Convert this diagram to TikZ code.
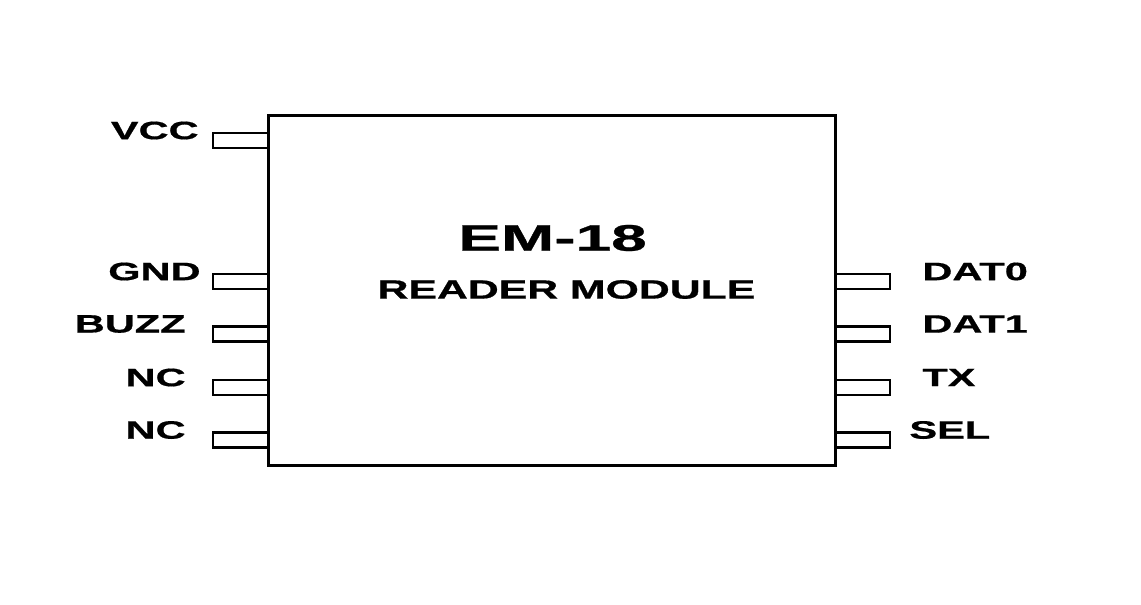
\documentclass[tikz,border=0pt]{standalone}
\usepackage{fontspec}
\setmainfont{Liberation Sans}[BoldFeatures={FakeBold=0.6}]
\newcommand{\widetext}[2][1.65]{\scalebox{#1}[1]{#2}}
\begin{document}
\begin{tikzpicture}
        [%%%%%%%%%%%%%%%%%%%%%%%%%%%%%%
        x=0.5pt, y=-0.5pt,
        module/.style={rectangle,draw=black,line width=1.5pt,minimum width=283.5pt,minimum height=175pt,inner sep=0pt},
        pinbox/.style={rectangle,draw=black,line width=1.4pt,minimum width=27.5pt,minimum height=7.5pt,inner sep=0pt},
        pinlabel/.style={font=\fontsize{12.6}{14}\selectfont\bfseries,inner sep=0pt},
        ]%%%%%%%%%%%%%%%%%%%%%%%%%%%%%%
        \useasboundingbox (0,0) rectangle (1141,605);

        \node[module] (em) at (551.5,290){};
        \node[font=\fontsize{18.5}{20}\selectfont\bfseries,inner sep=0pt] (title) at (552.5,238){\widetext[1.73]{EM-18}};
        \node[font=\fontsize{13.2}{15}\selectfont\bfseries,inner sep=0pt] (sub) at (566.5,289.5){\widetext[1.62]{READER MODULE}};

        % left side pins
        \foreach \n/\t/\y/\x in {vcc/VCC/140.5/199,gnd/GND/281.5/201,buzz/BUZZ/334/186,nca/NC/387.5/186,ncb/NC/440/186}{
          \node[pinbox] (\n) at (240.5,\y){};
          \node[pinlabel,anchor=east] (\n-lbl) at (\x,\y-10){\widetext{\t}};
        }

        % right side pins
        \foreach \n/\t/\y/\x in {dat0/DAT0/281.5/922,dat1/DAT1/334/922,tx/TX/387.5/922,sel/SEL/440/909}{
          \node[pinbox] (\n) at (862.5,\y){};
          \node[pinlabel,anchor=west] (\n-lbl) at (\x,\y-10){\widetext{\t}};
        }

      \end{tikzpicture}
\end{document}
